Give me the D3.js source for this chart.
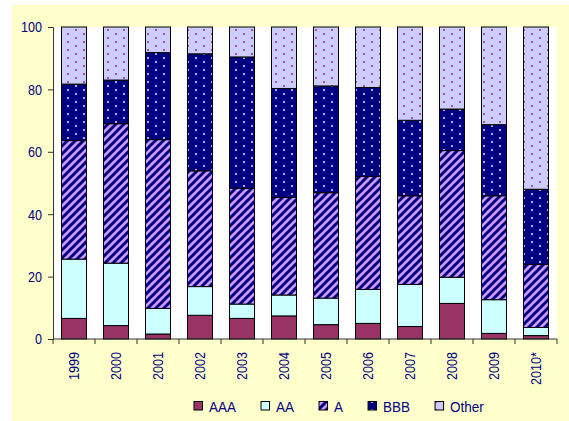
<!DOCTYPE html>
<html>
<head>
<meta charset="utf-8">
<script src="https://cdn.jsdelivr.net/npm/d3@7"></script>
<style>
  html, body { margin: 0; padding: 0; background: #ffffff; }
  svg { display: block; }
  text { font-family: "Liberation Sans", Arial, sans-serif; fill: #000080; }
</style>
</head>
<body>
<svg id="chart" width="569" height="421"></svg>
<script>
// Rating mix of issuance by year (%)
const years = ["1999", "2000", "2001", "2002", "2003", "2004", "2005", "2006", "2007", "2008", "2009", "2010*"];
const ratings = ["AAA", "AA", "A", "BBB", "Other"];
const aaa   = [6.6, 4.3, 1.6, 7.6, 6.6, 7.4, 4.6, 5.0, 4.0, 11.4, 1.8, 1.1];
const aa    = [19.0, 20.0, 8.2, 9.2, 4.6, 6.7, 8.5, 10.9, 13.5, 8.4, 10.8, 2.6];
const a     = [38.0, 44.7, 54.1, 37.1, 37.1, 31.3, 33.8, 36.2, 28.4, 40.6, 33.3, 20.2];
const bbb   = [18.1, 14.0, 27.9, 37.5, 42.1, 34.9, 34.2, 28.5, 24.2, 13.3, 22.8, 24.1];
const other = [18.3, 17.0, 8.2, 8.6, 9.6, 19.7, 18.9, 19.4, 29.9, 26.3, 31.3, 52.0];
const yTicks = [0, 20, 40, 60, 80, 100];

const svg = d3.select("#chart");
const W = 569, H = 421;
const plot = { left: 53, right: 557, top: 27, bottom: 339 };
const FONT = 15, SQUEEZE = 0.84;

// Fill patterns
const defs = svg.append("defs");

const stripes = defs.append("pattern")
  .attr("id", "pat-a").attr("patternUnits", "userSpaceOnUse")
  .attr("width", 8).attr("height", 8);
stripes.append("rect").attr("width", 8).attr("height", 8).attr("fill", "#cc99ff");
stripes.append("path")
  .attr("d", "M-2,2 L2,-2 M0,8 L8,0 M6,10 L10,6")
  .attr("stroke", "#000080").attr("stroke-width", 3);

function dotPattern(id, bg, dot) {
  const p = defs.append("pattern")
    .attr("id", id).attr("patternUnits", "userSpaceOnUse")
    .attr("width", 16).attr("height", 8);
  p.append("rect").attr("width", 16).attr("height", 8).attr("fill", bg);
  [[4, 2], [12, 6]].forEach(([cx, cy]) => {
    p.append("circle").attr("cx", cx).attr("cy", cy).attr("r", 1.1).attr("fill", dot);
  });
}
dotPattern("pat-bbb", "#000080", "#d8d8ff");
dotPattern("pat-other", "#ccccff", "#993399");

const fills = {
  AAA: "#993366",
  AA: "#ccffff",
  A: "url(#pat-a)",
  BBB: "url(#pat-bbb)",
  Other: "url(#pat-other)"
};

// Chart background and plot area
svg.append("rect").attr("x", 12).attr("y", 5).attr("width", W - 12).attr("height", H - 5)
  .attr("fill", "#ffffcc");
svg.append("rect").attr("x", plot.left).attr("y", plot.top)
  .attr("width", plot.right - plot.left).attr("height", plot.bottom - plot.top)
  .attr("fill", "#ffffff");

// Scales
const x = d3.scaleBand().domain(years).range([plot.left, plot.right])
  .paddingInner(0.405).paddingOuter(0.2025);
const y = d3.scaleLinear().domain([0, 100]).range([plot.bottom, plot.top]);

// Stack the series
const rows = years.map((yr, i) => ({
  year: yr, AAA: aaa[i], AA: aa[i], A: a[i], BBB: bbb[i], Other: other[i]
}));
const series = d3.stack().keys(ratings)(rows);

svg.append("g").selectAll("g")
  .data(series)
  .join("g")
    .attr("fill", d => fills[d.key])
  .selectAll("rect")
  .data(d => d)
  .join("rect")
    .attr("x", d => x(d.data.year))
    .attr("width", x.bandwidth())
    .attr("y", d => y(d[1]))
    .attr("height", d => y(d[0]) - y(d[1]))
    .attr("stroke", "#000000")
    .attr("stroke-width", 1);

// Y axis
const yAxis = svg.append("g")
  .attr("transform", `translate(${plot.left},0)`)
  .call(d3.axisLeft(y).tickValues(yTicks).tickSize(5).tickPadding(6));
yAxis.select(".domain").attr("stroke", "#333333");
yAxis.selectAll(".tick line").attr("stroke", "#333333");
yAxis.selectAll(".tick text")
  .attr("font-size", FONT).attr("fill", "#000080")
  .attr("transform", function () {
    const xx = +d3.select(this).attr("x");
    return `translate(${xx},0) scale(${SQUEEZE},1) translate(${-xx},0)`;
  });

// X axis: ticks between categories, rotated year labels
const xAxisG = svg.append("g");
xAxisG.append("line")
  .attr("x1", plot.left).attr("x2", plot.right)
  .attr("y1", plot.bottom).attr("y2", plot.bottom)
  .attr("stroke", "#333333");
const step = x.step();
const bounds = d3.range(years.length + 1).map(k => x(years[0]) - x.paddingOuter() * step + k * step);
xAxisG.selectAll("line.tk")
  .data(bounds)
  .join("line").attr("class", "tk")
  .attr("x1", d => d).attr("x2", d => d)
  .attr("y1", plot.bottom).attr("y2", plot.bottom + 5)
  .attr("stroke", "#333333");
xAxisG.selectAll("text.yr")
  .data(years)
  .join("text").attr("class", "yr")
  .attr("transform", d => `translate(${x(d) + x.bandwidth() / 2},352) rotate(-90) scale(${SQUEEZE},1)`)
  .attr("text-anchor", "end")
  .attr("dy", "0.36em")
  .attr("font-size", FONT)
  .text(d => d);

// Legend
const legend = svg.append("g");
let lx = 194;
const ly = 401.5;
ratings.forEach(key => {
  legend.append("rect")
    .attr("x", lx).attr("y", ly).attr("width", 8.5).attr("height", 8.5)
    .attr("fill", fills[key]).attr("stroke", "#000000").attr("stroke-width", 1);
  const t = legend.append("text")
    .attr("x", lx + 15).attr("y", ly + 10.5)
    .attr("font-size", FONT)
    .text(key);
  const w = t.node().getComputedTextLength() * 0.9;
  t.attr("transform", `translate(${lx + 15},0) scale(0.9,1) translate(${-(lx + 15)},0)`);
  lx += 15 + w + 25;
});
</script>
</body>
</html>
